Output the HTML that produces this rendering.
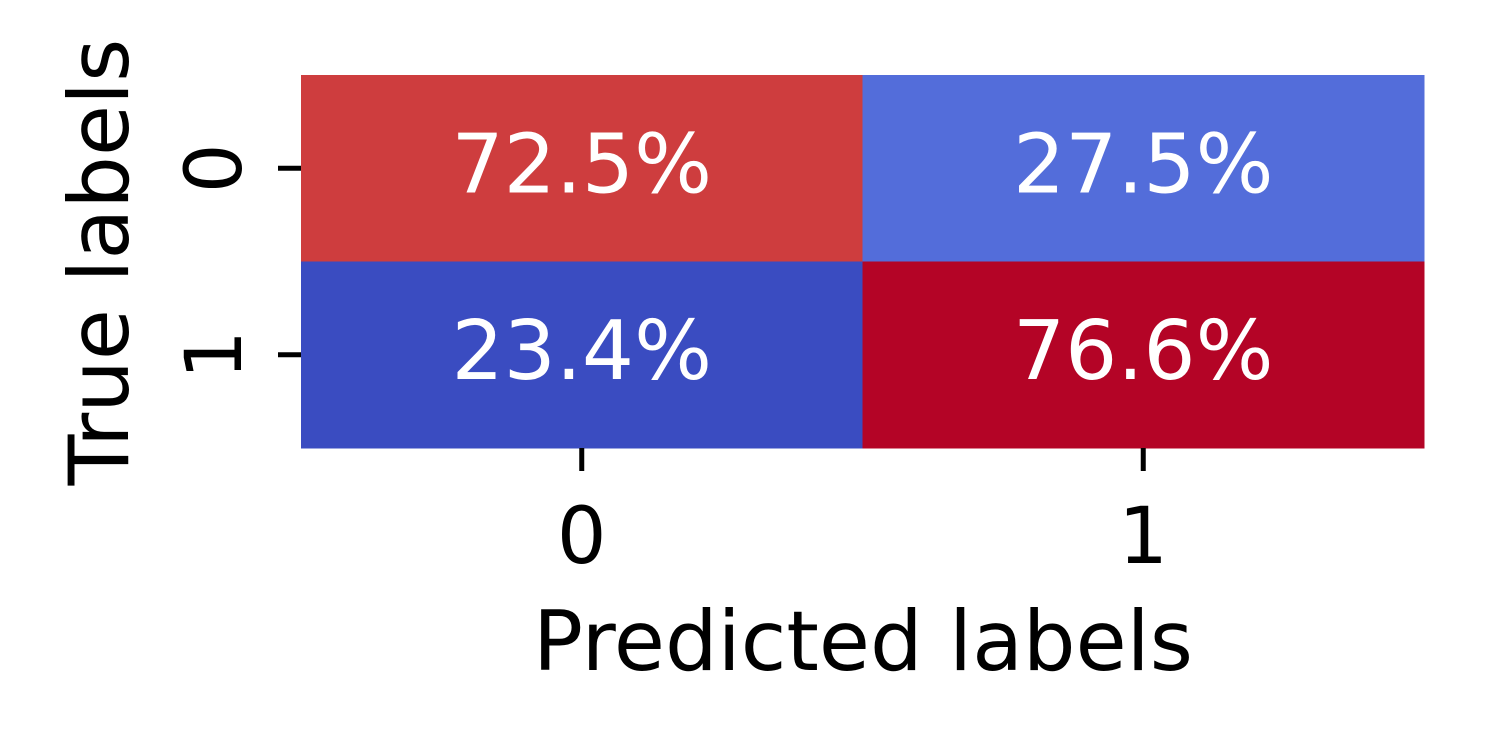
<!DOCTYPE html>
<html><head><meta charset="utf-8"><style>
html,body{margin:0;padding:0;background:#fff;width:1500px;height:750px;overflow:hidden}
svg{display:block;font-family:"DejaVu Sans","Liberation Sans",sans-serif}
</style></head><body>
<svg id="chart" width="1500" height="750">
<g id="cells"></g>
<g id="axes"></g>
<text x="863" y="670" font-size="83" text-anchor="middle" fill="#000">Predicted labels</text>
<text transform="translate(128,262) rotate(-90)" font-size="83" text-anchor="middle" fill="#000">True labels</text>
</svg>
<script>
const xCategories = ["0","1"];
const yCategories = ["0","1"];
const values = [[72.5,27.5],[23.4,76.6]];
const pLeft=301,pRight=1424,pTop=75,pBottom=448;
const cw=(pRight-pLeft)/xCategories.length, ch=(pBottom-pTop)/yCategories.length;
const xPos=i=>pLeft+i*cw, yPos=j=>pTop+j*ch;
const stops=[[58,76,193],[98,130,234],[141,176,254],[184,208,249],[221,220,220],[245,196,173],[244,154,123],[222,96,77],[180,4,38]];
const flat=values.flat(), vmin=Math.min(...flat), vmax=Math.max(...flat);
function color(v){let t=(v-vmin)/(vmax-vmin);t=Math.max(0,Math.min(1,t));const s=t*8,i=Math.min(7,Math.floor(s)),f=s-i;
const c=stops[i].map((a,k)=>Math.round(a+(stops[i+1][k]-a)*f));return "rgb("+c.join(",")+")";}
const NS="http://www.w3.org/2000/svg";
const cells=document.getElementById('cells'), axes=document.getElementById('axes');
function mk(tag,attrs,parent){const e=document.createElementNS(NS,tag);for(const k in attrs)e.setAttribute(k,attrs[k]);parent.appendChild(e);return e;}
values.forEach((row,j)=>row.forEach((v,i)=>{
 const r=mk('rect',{x:xPos(i),y:yPos(j),width:cw+0.5,height:ch+0.5,fill:color(v)},cells);
 
 
 const t=mk('text',{x:xPos(i)+cw/2,y:yPos(j)+ch/2+24,'font-size':82,'text-anchor':'middle',fill:'#fff'},cells);
 t.textContent=v.toFixed(1)+'%';
 
 
}));
xCategories.forEach((c,i)=>{
 const x=xPos(i)+cw/2;
 const l=mk('line',{x1:x,x2:x,y1:pBottom,y2:pBottom+23,stroke:'#000','stroke-width':5},axes);
 
 
 const t=mk('text',{x:x,y:563,'font-size':78,'text-anchor':'middle',fill:'#000'},axes);
 t.textContent=c;
 
 
});
yCategories.forEach((c,j)=>{
 const y=yPos(j)+ch/2;
 const l=mk('line',{x1:pLeft-23,x2:pLeft,y1:y,y2:y,stroke:'#000','stroke-width':5},axes);
 
 
 const t=mk('text',{transform:"translate(241,"+y+") rotate(-90)",'font-size':78,'text-anchor':'middle',fill:'#000'},axes);
 t.textContent=c;
 
 
});
</script>
</body></html>
